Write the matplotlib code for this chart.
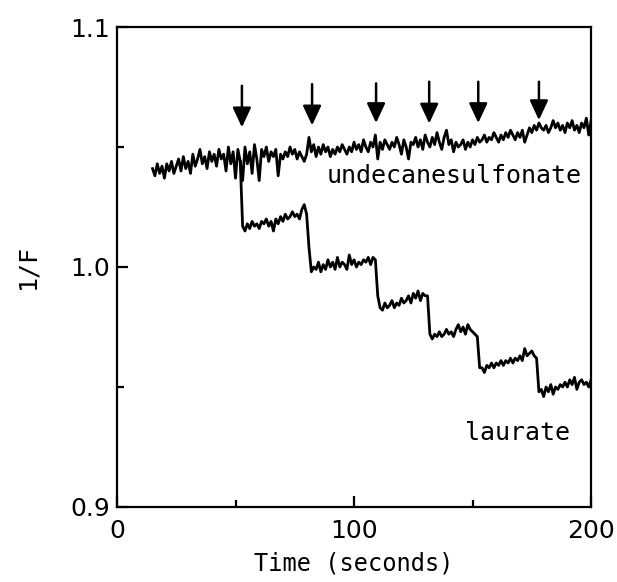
import numpy as np
import matplotlib
matplotlib.use("Agg")
import matplotlib.pyplot as plt

# undecanesulfonate trace, one reading per second from t = 15 s
undec_start = 15
undec_values = [
    1.041, 1.038, 1.043, 1.039, 1.042, 1.037, 1.043, 1.040, 1.044, 1.039,
    1.042, 1.045, 1.040, 1.046, 1.041, 1.044, 1.039, 1.047, 1.042, 1.045,
    1.049, 1.043, 1.046, 1.041, 1.048, 1.044, 1.047, 1.042, 1.049, 1.045,
    1.047, 1.040, 1.050, 1.043, 1.048, 1.037, 1.049, 1.044, 1.036, 1.050,
    1.043, 1.048, 1.039, 1.051, 1.045, 1.036, 1.049, 1.046, 1.050, 1.044,
    1.048, 1.046, 1.049, 1.038, 1.047, 1.045, 1.048, 1.046, 1.050, 1.047,
    1.049, 1.045, 1.048, 1.046, 1.044, 1.047, 1.054, 1.048, 1.051, 1.046,
    1.050, 1.047, 1.051, 1.048, 1.050, 1.046, 1.049, 1.047, 1.050, 1.048,
    1.051, 1.049, 1.047, 1.050, 1.048, 1.052, 1.049, 1.051, 1.048, 1.053,
    1.050, 1.048, 1.052, 1.050, 1.055, 1.045, 1.052, 1.049, 1.053, 1.051,
    1.049, 1.052, 1.050, 1.054, 1.051, 1.047, 1.053, 1.050, 1.045, 1.052,
    1.051, 1.054, 1.050, 1.053, 1.049, 1.055, 1.052, 1.050, 1.054, 1.051,
    1.056, 1.052, 1.049, 1.054, 1.057, 1.051, 1.053, 1.048, 1.052, 1.050,
    1.051, 1.053, 1.049, 1.052, 1.050, 1.053, 1.051, 1.054, 1.052, 1.053,
    1.055, 1.052, 1.054, 1.053, 1.056, 1.054, 1.052, 1.055, 1.053, 1.056,
    1.054, 1.057, 1.055, 1.053, 1.056, 1.054, 1.057, 1.052, 1.055, 1.058,
    1.056, 1.059, 1.057, 1.060, 1.058, 1.057, 1.059, 1.056, 1.058, 1.061,
    1.058, 1.060, 1.057, 1.059, 1.056, 1.060, 1.058, 1.061, 1.057, 1.059,
    1.056, 1.060, 1.058, 1.062, 1.055, 1.061,
]

# laurate trace, one reading per second from t = 52 s
laur_start = 52
laur_values = [
    1.044,
    1.017, 1.015, 1.018, 1.016, 1.019, 1.017, 1.018, 1.016, 1.019, 1.018,
    1.020, 1.017, 1.019, 1.015, 1.020, 1.018, 1.021, 1.019, 1.022, 1.020,
    1.021, 1.023, 1.021, 1.022, 1.020, 1.024, 1.026,
    1.022, 1.008, 0.998,
    1.000, 0.999, 1.002, 0.998, 1.001, 0.999, 1.003, 1.000, 1.002, 0.999,
    1.004, 1.000, 1.002, 1.001, 0.999, 1.005, 1.001, 1.003, 1.000, 1.002,
    1.001, 1.003, 1.002, 1.004, 1.001, 1.004,
    1.003, 0.988, 0.983,
    0.982, 0.985, 0.983, 0.984, 0.986, 0.983, 0.985, 0.984, 0.987, 0.985,
    0.986, 0.988, 0.985, 0.989, 0.987, 0.990, 0.986, 0.989, 0.988, 0.988,
    0.972,
    0.970, 0.972, 0.971, 0.973, 0.971, 0.972, 0.974, 0.972, 0.973, 0.971,
    0.974, 0.976, 0.973, 0.975, 0.972, 0.976, 0.974, 0.973, 0.972, 0.971,
    0.958,
    0.958, 0.956, 0.959, 0.958, 0.960, 0.958, 0.960, 0.959, 0.961, 0.959,
    0.961, 0.960, 0.962, 0.960, 0.962, 0.961, 0.963, 0.961, 0.966, 0.963,
    0.964, 0.965, 0.963, 0.962,
    0.948,
    0.949, 0.946, 0.950, 0.948, 0.951, 0.947, 0.950, 0.949, 0.951, 0.950,
    0.952, 0.950, 0.953, 0.951, 0.954, 0.949, 0.952, 0.953, 0.951, 0.952,
    0.950, 0.953,
]

# additions (arrows): time, tail and tip of each arrow
arrow_times = [52.7, 82.3, 109.3, 131.7, 152.4, 178.0]
arrow_tails = [1.0755, 1.0762, 1.0765, 1.0772, 1.0772, 1.0772]
arrow_tips = [1.0582, 1.0590, 1.0600, 1.0598, 1.0600, 1.0612]

undec_t = undec_start + np.arange(len(undec_values))
laur_t = laur_start + np.arange(len(laur_values))

fig = plt.figure(figsize=(6.17, 5.82), dpi=100)
ax = fig.add_axes([0.1896, 0.1289, 0.7684, 0.8247])

ax.plot(undec_t, undec_values, color="black", lw=2.0)
ax.plot(laur_t, laur_values, color="black", lw=2.0)

for t, y0, y1 in zip(arrow_times, arrow_tails, arrow_tips):
    ax.annotate("", xy=(t, y1), xytext=(t, y0),
                arrowprops=dict(arrowstyle="-|>,head_length=0.6,head_width=0.28",
                                mutation_scale=20, lw=1.8, color="black",
                                shrinkA=0, shrinkB=0))

ax.text(196, 1.038, "undecanesulfonate", family="DejaVu Sans Mono",
        fontsize=18, ha="right", va="center")
ax.text(191, 0.931, "laurate", family="DejaVu Sans Mono",
        fontsize=18, ha="right", va="center")

ax.set_xlim(0, 200)
ax.set_ylim(0.9, 1.1)
ax.set_xticks([0, 100, 200])
ax.set_xticks([50, 150], minor=True)
ax.set_yticks([0.9, 1.0, 1.1])
ax.set_yticks([0.95, 1.05], minor=True)
ax.set_xticklabels(["0", "100", "200"], fontsize=18)
ax.set_yticklabels(["0.9", "1.0", "1.1"], fontsize=18)

ax.tick_params(which="both", direction="in", width=1.6)
ax.tick_params(which="major", length=8)
ax.tick_params(which="minor", length=5)
ax.tick_params(axis="x", which="both", pad=9, top=False)
ax.tick_params(axis="y", which="both", pad=5, right=False)
for s in ax.spines.values():
    s.set_linewidth(1.6)

ax.set_xlabel("Time (seconds)", family="DejaVu Sans Mono", fontsize=17, labelpad=6)
ax.set_ylabel("1/F", family="DejaVu Sans Mono", fontsize=18, labelpad=22)

fig.savefig("out.png", dpi=100)
